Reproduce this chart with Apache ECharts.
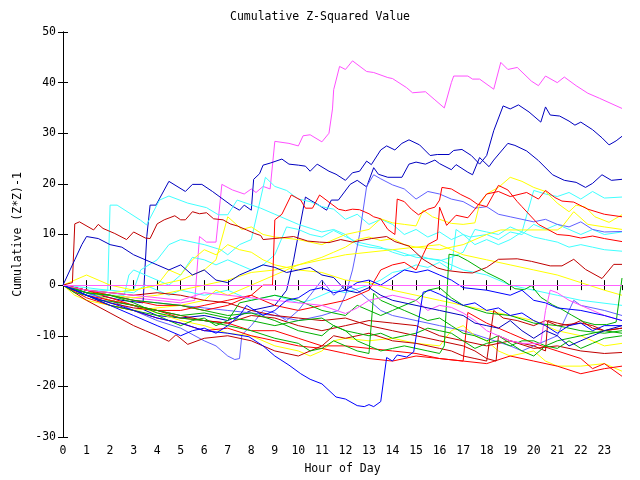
<!DOCTYPE html>
<html><head><meta charset="utf-8">
<script src="https://cdn.jsdelivr.net/npm/echarts@6/dist/echarts.min.js"></script>
<style>html,body{margin:0;padding:0;background:#fff}#c{width:640px;height:480px}</style>
</head><body><div id="c"></div>
<script>
const title = "Cumulative Z-Squared Value";
const xName = "Hour of Day";
const yName = "Cumulative (Z*Z)-1";
const xMin = 0, xMax = 23.75, yMin = -30, yMax = 50;

const magenta1 = [[0,0],[1,-1],[2,-2],[3,-2.5],[4,-3],[5,-3.5],[5.6,-3],[5.8,9.6],[6.1,8.5],[6.5,8.5],[6.75,19.9],[7.2,18.8],[7.7,18],[8.0,19],[8.2,18.3],[8.5,19.5],[8.8,19],[9.0,28.4],[9.6,28],[10.0,27.5],[10.2,29.5],[10.5,29.7],[11,28.3],[11.3,30],[11.45,34.8],[11.5,38.6],[11.75,43.2],[12,42.6],[12.3,44.3],[12.9,42.2],[13.2,42],[13.8,41],[14.0,40.8],[14.6,39],[14.85,38],[15.4,38.2],[15.8,36.6],[16.2,35],[16.5,40],[16.6,41.3],[17.2,41.3],[17.4,40.7],[17.7,40.7],[18.3,38.7],[18.6,44],[18.9,42.6],[19.3,43],[19.9,40.3],[20.2,39.4],[20.5,41.3],[21.0,40],[21.3,41.1],[21.8,39.4],[22.3,37.9],[22.8,36.9],[23.75,34.9]];
const darkBlueA = [[0,0],[0.5,-1],[1.5,-2],[2.5,-3],[3.4,-3.5],[3.56,9.6],[3.7,15.8],[3.95,15.8],[4.5,20.5],[5.2,18.5],[5.5,19.9],[5.9,19.9],[6.35,18.5],[7.2,15.6],[7.5,14.8],[7.7,15.8],[8.0,14.8],[8.1,20.9],[8.35,22],[8.5,23.7],[8.8,24.1],[9.3,24.9],[9.6,23.9],[10.0,23.7],[10.3,23.5],[10.5,22.5],[10.8,23.9],[11.3,22.5],[11.6,21.9],[12.0,20.7],[12.3,22.2],[12.6,22.5],[12.9,24.5],[13.1,23.8],[13.5,26.7],[13.75,27.5],[14.1,26.7],[14.4,28],[14.7,28.7],[15.15,27.7],[15.6,25.6],[15.9,25.8],[16.4,25.8],[16.6,26.6],[16.95,26.8],[17.35,25.6],[17.7,23.9],[18.0,25.6],[18.3,30.5],[18.7,35.4],[19.0,34.8],[19.35,35.6],[19.8,34.2],[20.3,32.2],[20.5,35.2],[20.7,33.6],[21.1,33.4],[21.5,32.4],[21.75,31.6],[22.0,32.2],[22.5,30.7],[22.9,29.1],[23.2,27.7],[23.5,28.5],[23.75,29.4]];
const darkBlueB = [[0,0],[1,-1.5],[2,-3],[3,-4],[4,-6],[5,-6.5],[6,-6],[7,-7],[8,-5],[9,-4],[9.5,-1],[9.8,5],[10.06,11.5],[10.3,17.4],[10.5,16.8],[10.8,16],[11.2,14.8],[11.4,16.8],[11.7,16.8],[12.2,19.9],[12.5,20.7],[12.9,19.4],[13.2,23.2],[13.4,21.9],[13.8,21.3],[14.4,21.3],[14.7,23.9],[15.0,24.3],[15.4,23.9],[15.8,24.7],[16.0,24],[16.5,22.8],[16.7,23.8],[17.2,22.3],[17.4,21.8],[17.7,25.2],[18.1,23.4],[18.3,24.7],[18.9,28],[19.2,27.6],[19.7,26.5],[20.2,24.6],[20.8,21.8],[21.3,20.7],[21.8,20.3],[22.2,19.3],[22.5,20.1],[22.9,21.8],[23.3,20.7],[23.75,20.9]];
const cyan1 = [[0,0],[1,-0.5],[1.9,-1],[2.0,15.8],[2.3,15.8],[3.3,12.8],[3.55,11.9],[4.1,16.8],[4.5,17.6],[5.3,16.2],[6.1,15.3],[6.6,13.9],[7.0,13.9],[7.4,16.8],[8.4,15.2],[9,14],[10,12],[11,10.5],[11.5,11],[12,10],[12.5,8],[13,7.5],[14,7],[15,5.5],[16,5],[16.5,4],[17,3],[18,2],[19,0],[20,-1],[21,-2],[22,-3],[23.75,-4]];
const cyan2 = [[0,0],[1,-1],[2,-1.5],[3,-1],[3.3,3],[4,5],[4.5,8],[5,9],[6,8],[6.7,7],[7,6],[7.5,8],[8,9],[8.6,21.3],[9,19.5],[9.5,18.7],[10,17],[10.5,16.5],[11,15.5],[11.5,15],[12,13],[12.5,14],[13,12],[13.5,13],[14,12],[14.5,10],[15,11],[15.5,9.5],[16,10.5],[16.5,9],[17,10],[17.5,8],[18,9],[18.5,8],[19,9],[19.5,10.5],[20,18.7],[20.5,18],[21,17.5],[21.5,18.3],[22,17],[22.5,18.5],[23,17.2],[23.75,17.4]];
const cyan3 = [[0,0],[1,-2],[2,-2],[2.6,-2],[2.8,2],[3,3],[3.5,2],[4,1],[4.5,0],[5,2],[5.5,5.5],[6,5],[6.5,4],[7,5],[7.5,4],[8,3],[8.5,4],[9,6],[9.5,11.5],[10,11],[10.5,10],[11,9.5],[11.5,10.8],[12,9.6],[12.5,8.5],[13,8],[13.5,7.5],[14,6.5],[14.5,5.8],[15,6],[15.5,5.3],[16,4.8],[16.5,5.5],[17,6.5],[17.5,11],[18,10.5],[18.5,10],[19,11.5],[19.5,10.5],[20,9.5],[20.5,9],[21,8.5],[21.5,7.5],[22,8],[22.5,7.5],[23,7],[23.75,6.7]];
const cyan4 = [[0,0],[1,-1],[2,-1],[3,-1.5],[3.5,0],[4,-1],[4.5,-2],[5,-1],[6,-2],[7,-1],[8,-3],[9,-2],[10,-3.5],[10.5,-3],[11,-2],[11.5,-1],[12,-1.5],[13,0],[13.5,1],[14,2.5],[14.5,3],[15,4],[15.5,3.5],[16,4.5],[16.5,3],[16.7,11],[17,10],[17.3,9.5],[18,10],[18.5,9],[19,10.5],[19.5,10],[20,12],[20.5,11],[21,12],[21.5,11],[22,10],[22.5,11],[23,10],[23.75,10.5]];
const lightBlue1 = [[0,0],[1,-1],[2,-2],[3,-3],[4,-3.5],[5,-4],[6,-4.5],[7,-5],[8,-5.5],[9,-6],[10,-7],[11,-6],[11.7,-5],[12,-2],[12.3,3],[12.6,10],[12.9,19.5],[13.2,21.8],[13.5,21],[14,19.8],[14.5,19],[15,17],[15.5,18.5],[16,18],[16.5,17],[17,16.5],[17.5,15.2],[18,15.5],[18.5,14],[19,13.5],[19.5,13],[20,12.5],[20.5,13],[21,12],[21.5,11.5],[22,12.5],[22.5,11],[23,10.5],[23.75,10.6]];
const lightBlue2 = [[0,0],[1,-1.5],[2,-3],[3,-5],[4,-7],[5,-8.5],[6,-11],[6.5,-12],[7,-14],[7.3,-14.7],[7.5,-14.5],[7.6,-9.8],[8,-8],[8.5,-5],[9,-5.5],[9.5,-7],[10,-5],[10.5,-2],[11,1],[11.5,-2],[12,0],[12.5,-1],[13,-3],[13.5,-5],[14,-6],[15,-7],[16,-8],[17,-9],[18,-10.5],[19,-12],[19.5,-13],[20,-12],[20.5,-11],[21,-10],[21.7,-3],[22,-4],[23,-5],[23.75,-6]];
const yellow1 = [[0,0],[1,-1],[2,-1.5],[3,-1],[4,0],[5,1],[6,3],[6.5,5],[7,13.5],[7.6,11],[8,11.5],[8.5,10],[9,9.5],[10,9],[11,8],[12,10],[12.5,10.5],[13,11],[13.5,13.1],[14,12.3],[14.5,12],[15,11.7],[15.3,14.8],[15.7,13.5],[16,13],[16.5,12.2],[17,12],[17.5,12.3],[17.7,16],[18,18],[18.5,19.3],[19,21.3],[19.5,20.5],[20,19.3],[20.5,18.5],[21,16.2],[21.5,14.5],[21.8,15.8],[22.2,15.4],[22.6,13.5],[23.2,12.4],[23.75,13.9]];
const yellow2 = [[0,0],[1,-1],[2,-2],[3,-2.5],[4,-2],[5,-1],[6,0],[7,1],[8,2.5],[9,3],[10,4],[11,5],[12,6],[13,6.5],[14,7],[15,7.5],[16,7],[17,8],[18,10],[18.6,10.9],[21,10.9],[21.2,11.5],[21.7,14.5],[22.3,12],[23,11.5],[23.75,11]];
const yellow3 = [[0,0],[1,-1],[2,-3],[3,-4],[4,-5.5],[5,-7],[6,-8],[7,-9.5],[8,-10],[9,-12],[10,-13],[10.5,-14],[11,-13],[11.5,-11],[12,-10.5],[13,-11],[14,-10.5],[15,-11.5],[16,-12],[16.5,-9],[17,-8],[17.5,-10],[18,-11],[18.5,-13],[19,-14],[20,-13],[20.5,-15],[21,-16],[22,-16],[23,-15.5],[23.75,-17]];
const yellow4 = [[0,0],[0.5,1],[1,2],[2,0],[3,-1],[4,0],[4.5,3],[5,2],[5.5,5],[6,7],[6.5,6],[7,8],[7.5,7],[8,6.5],[8.5,5],[9,4],[10,3],[11,2.5],[12,1],[13,0.5],[14,-1],[15,-2],[16,-3],[17,-4],[18,-5],[19,-6],[20,-7],[21,-9],[22,-10],[23,-12],[23.75,-11.5]];
const yellow5 = [[0,0],[0.5,-2],[1,-3],[2,-4],[3,-5],[4,-4.5],[5,-4],[6,-3],[6.5,-1],[7,-2],[8,0],[9,2],[10,4],[11,5.5],[11.5,6.5],[12,7.5],[12.5,9],[13,9.5],[13.5,8.8],[14,9.2],[14.5,8],[15,7.5],[16,8],[16.5,7],[17,6],[18,5],[19,4],[20,3],[21,2],[22,0.5],[23,-1],[23.75,-2]];
const red1 = [[0,0],[0.4,0.5],[0.5,12.1],[0.7,12.5],[1.3,10.9],[1.5,12],[1.7,11.2],[2.2,10.2],[2.7,9],[3.0,10.5],[3.5,9.3],[3.7,9.2],[4.0,12.1],[4.3,12.9],[4.75,13.7],[5.0,12.9],[5.2,12.9],[5.5,14.5],[5.8,14.1],[6.1,14.3],[6.4,13.1],[6.8,12.9],[7.1,12.1],[7.4,11.7],[7.8,10.9],[8.15,10.2],[8.4,9.8],[8.5,9],[9.2,9.3],[9.8,9.6],[10.4,8.7],[10.9,8.5],[11.3,8.4],[11.8,9],[12.3,8.5],[13.1,9.2],[13.75,9.6],[14.1,8.6],[14.7,7.7],[15.3,5.1],[15.9,3.4],[16.3,2.9],[17.0,2.5],[17.4,2.4],[18.0,3.5],[18.5,5.1],[19.3,5.2],[19.9,4.7],[20.7,3.8],[21.2,3.8],[21.7,5.1],[22.2,3.1],[22.9,1.3],[23.4,4.1],[23.75,4.1]];
const red2 = [[0,0],[1,-1],[2,-2],[3,-3],[4,-4],[5,-4],[6,-5],[7,-4],[8,-2],[8.5,0],[8.9,0],[9,12.9],[9.3,14],[9.7,17.8],[10.1,16.8],[10.3,15.2],[10.6,15.2],[10.9,17.8],[11.3,16.4],[11.7,15],[12.0,14.7],[12.3,15],[12.6,14.9],[13.0,14.1],[13.2,13.5],[13.5,13.1],[13.8,11],[14.1,10],[14.2,17],[14.5,16.5],[14.8,15],[15.1,13.9],[15.5,15],[15.8,15.4],[16.0,16.8],[16.1,19.3],[16.5,19],[16.9,17.9],[17.3,17],[17.6,16],[18.0,15.5],[18.5,19.7],[18.9,18.8],[19.3,16.5],[19.5,15.5],[20.2,12],[20.6,11],[21.0,10],[21.5,9.8],[22,9.3],[22.5,9.7],[23,9.2],[23.75,8.6]];
const red3 = [[0,0],[1,-2],[2,-3],[3,-4],[4,-5],[5,-5],[6,-4],[7,-3],[8,-2],[9,-4],[10,-5],[11,-4],[12,-3],[13,-1],[13.5,3],[14,4],[14.5,4.5],[15,3],[15.3,6],[15.5,8],[15.9,9],[16.0,15.4],[16.3,11.8],[16.7,13.8],[17.2,13.3],[17.5,15],[18,18],[18.5,18.5],[19,17.5],[19.7,18.3],[20.2,17],[20.5,18.7],[20.9,17.3],[21.2,16.6],[21.7,16.4],[22.3,15],[23,14],[23.75,13.5]];
const red4 = [[0,0],[1,-2.5],[2,-4],[3,-5],[4,-6.5],[5,-7.5],[6,-9],[7,-8.5],[8,-10],[9,-11],[10,-12],[11,-12.5],[12,-13.5],[13,-14.5],[14,-15],[15,-14],[16,-14.5],[17,-15],[18,-15.5],[19,-14],[20,-15],[21,-16],[22,-17.5],[23,-16.5],[23.75,-16]];
const red5 = [[0,0],[1,-1],[2,-2.5],[3,-4],[4,-5],[5,-6.5],[6,-7],[7,-7.5],[8,-9],[9,-9],[10,-10.5],[11,-12],[12,-12],[13,-12.5],[14,-13],[15,-13.5],[16,-14.5],[17,-15],[17.2,-5.4],[18,-7.5],[19,-9.5],[20,-11.5],[21,-13],[22,-14.5],[22.5,-16.5],[23,-15.5],[23.75,-18]];
const darkRed2 = [[0,0],[1,-3],[2,-5.5],[3,-8],[3.5,-9],[4,-10],[4.5,-11.1],[4.8,-9.8],[5.3,-11.7],[6,-10.5],[7,-10],[8,-11],[9,-13],[10,-14],[10.5,-13],[11,-12],[11.5,-10],[12,-10.5],[13,-9.5],[14,-11],[15,-11.5],[16,-12.5],[16.5,-13],[17,-14],[17.5,-14.5],[18,-15],[18.3,-5],[18.7,-6.5],[19.3,-7],[20,-8],[20.5,-7],[21,-8],[22,-7.5],[22.5,-8],[23,-9],[23.75,-8.5]];
const darkRed3 = [[0,0],[1,-2],[2,-3.5],[3,-4.5],[4,-5],[5,-6],[6,-7],[7,-7.5],[8,-6],[9,-6.5],[10,-8],[11,-9],[12,-8],[13,-7],[14,-7.5],[15,-8],[16,-10],[17,-11],[18,-12],[19,-11],[20,-12.5],[21,-12],[22,-13],[23,-13.5],[23.75,-13.3]];
const darkRed4 = [[0,0],[1,-1],[2,-1.5],[3,-2],[4,-1.5],[5,-2],[6,-3],[7,-3.5],[8,-5],[9,-6],[10,-6.5],[11,-7],[12,-6.5],[13,-8],[14,-9],[15,-10],[16,-11],[17,-12],[17.5,-13],[18,-14.5],[18.4,-15],[18.5,-10],[19,-11],[20,-12],[20.5,-13],[20.6,-7],[21,-7.5],[21.5,-8],[22,-7],[22.5,-8.5],[23,-9],[23.75,-8.5]];
const green1 = [[0,0],[0.5,-1.5],[1,-2],[1.5,-3],[2,-3.2],[3,-4],[4,-5],[5,-6],[6,-5.5],[7,-6.5],[8,-7],[9,-8],[10,-7],[11,-6.5],[11.5,-8],[12,-9],[12.5,-9.5],[13,-10],[13.5,-9.5],[14,-10.5],[14.5,-10],[15,-9.5],[15.5,-8.5],[16,-9],[16.5,-9.5],[17,-11],[17.5,-12.5],[18,-11.5],[18.5,-11],[19,-12],[19.5,-11],[20,-11],[20.5,-12],[21,-12.5],[21.5,-11],[22,-12.5],[22.5,-11.5],[23,-10.5],[23.75,-10]];
const green2 = [[0,0],[1,-1.5],[2,-2],[3,-3],[4,-3.5],[5,-4],[6,-5],[7,-6],[8,-5.5],[9,-7],[10,-9],[11,-10],[11.5,-8],[12,-9],[12.5,-11],[13,-12],[13.5,-13],[14,-12.5],[14.5,-12],[15,-12.5],[15.5,-13],[16,-13.5],[16.2,-12],[16.4,6.1],[16.8,5.8],[17.2,4.8],[18,2.5],[18.7,0.9],[19.2,-0.7],[19.6,-0.9],[19.9,-0.1],[20.3,-2.4],[20.8,-3.9],[21.2,-4.8],[21.6,-5.9],[22.1,-7.2],[22.6,-7.8],[23.1,-7.8],[23.5,-7.3],[23.75,1.4]];
const green3 = [[0,0],[1,-2],[2,-4],[3,-5],[4,-6],[5,-8],[5.5,-7],[6,-6.5],[6.5,-8],[7,-7],[7.5,-3.5],[8,-3],[9,-2],[10,-3],[11,-5],[12,-6],[12.5,-4],[13,-5],[13.5,-6],[14,-5],[15,-3],[15.5,-1],[16,-0.5],[16.5,-2.5],[17,-4],[18,-5.5],[19,-6],[20,-7.5],[21,-8],[22,-9],[23,-9.5],[23.75,-9]];
const green4 = [[0,0],[1,-1.5],[2,-2],[3,-3.5],[4,-5.5],[5,-6.5],[6,-7],[7,-8],[8,-9],[9,-10.5],[10,-11.5],[10.5,-13],[11,-12.5],[11.5,-11],[12,-12],[12.5,-13],[13,-13.5],[13.2,-1.6],[13.5,-3],[14,-4],[14.5,-5],[15,-6],[15.5,-7],[16,-6.5],[16.5,-8],[17,-9.5],[17.5,-10],[18,-11],[18.5,-10],[19,-11.5],[19.5,-13],[20,-14],[20.5,-12],[21,-11],[22,-10],[23,-9],[23.75,-9.5]];
const magenta2 = [[0,0],[1,-1],[2,-1.5],[3,-2],[4,-2.5],[5,-3],[6,-1.5],[7,-2],[8,-2.5],[9,-3],[10,-3.5],[11,-4],[12,-5.6],[12.5,-4.5],[13,-3],[14,-2],[15,-3],[15.5,-5],[16,-4],[16.5,-4.4],[17,-5.5],[17.5,-7],[18,-9],[19,-11],[19.5,-11.5],[20,-11.5],[20.3,-11.5],[20.5,-5],[20.7,-1],[21,-1.5],[21.5,-3],[22,-4],[22.5,-5],[23,-6],[23.75,-7]];
const blue1 = [[0,0],[1,-2],[2,-3.5],[3,-5],[4,-6.5],[5,-7.5],[6,-9],[7,-9.5],[7.9,-10.2],[8.5,-12],[9,-14],[9.6,-15.8],[10.1,-17.5],[10.5,-18.6],[11,-19.5],[11.6,-22.1],[12,-22.5],[12.5,-23.8],[12.8,-24],[13.0,-23.6],[13.2,-24],[13.5,-23],[13.75,-14.3],[14.0,-15],[14.2,-13.8],[14.6,-14.2],[14.9,-13.2],[15.3,-1.4],[15.6,-1],[16.0,-1.8],[16.5,-3],[17,-4],[17.5,-3.5],[18,-5],[18.5,-4.5],[19,-6],[19.5,-5.5],[20,-7],[20.5,-8],[21,-9.5],[21.5,-8],[22,-7.5],[22.5,-9],[23,-8],[23.75,-8]];
const blue2 = [[0,0],[0.5,-1],[1,-2],[2,-4],[3,-6],[4,-8],[4.5,-9],[5,-10],[5.5,-9],[6,-8.5],[6.5,-9.5],[7,-8],[7.5,-6],[7.8,-4],[8.5,-6],[9,-5],[9.5,-3],[10,-2.5],[10.5,-1],[11,-0.5],[11.5,-1.5],[12,-1],[12.5,0.5],[13,1],[13.5,0],[14,1.5],[14.5,3],[15,2.5],[15.5,3],[16,2],[16.5,1],[17,-0.5],[18,-1],[19,-2],[19.5,-1],[20,-3],[20.5,-3.5],[21,-4.5],[22,-5],[23,-6],[23.75,-7]];
const blue3 = [[0,0],[0.3,3],[0.5,5],[0.8,8],[1,9.6],[1.5,9.2],[2,8],[2.5,7.5],[3,6],[3.5,5],[4,4],[4.5,3],[5,4],[5.5,2],[6,3],[6.5,1],[7,0.5],[7.5,2],[8,3],[8.5,4],[9,3.5],[9.5,2.5],[10,3],[10.5,3.5],[11,2],[11.5,1.5],[12,-1],[12.5,-1.5],[13,-0.5],[13.5,-2],[14,-3],[15,-4],[16,-5],[17,-6],[17.5,-7.5],[18,-8],[18.5,-8.5],[19,-7],[19.5,-9],[20,-10.5],[20.5,-9],[21,-10],[21.5,-12],[22,-11],[22.5,-10],[23,-9],[23.75,-8]];

const lines = [
  [magenta1,'#ff50ff'],[darkBlueA,'#0000c0'],[darkBlueB,'#0000c0'],
  [cyan1,'#40ffff'],[cyan2,'#40ffff'],[cyan3,'#40ffff'],[cyan4,'#40ffff'],
  [lightBlue1,'#6060ff'],[lightBlue2,'#6060ff'],
  [yellow1,'#ffff00'],[yellow2,'#ffff00'],[yellow3,'#ffff00'],[yellow4,'#ffff00'],[yellow5,'#ffff00'],
  [red1,'#c00000'],[red2,'#ff0000'],[red3,'#ff0000'],[red4,'#ff0000'],[red5,'#ff0000'],
  [darkRed2,'#c00000'],[darkRed3,'#c00000'],[darkRed4,'#c00000'],
  [green1,'#00b000'],[green2,'#00b000'],[green3,'#00b000'],[green4,'#00b000'],
  [magenta2,'#ff50ff'],[blue1,'#0000ff'],[blue2,'#0000ff'],[blue3,'#0000c0']
];

const FONT = 'DejaVu Sans Mono';
const chart = echarts.init(document.getElementById('c'), null, {renderer:'canvas'});
const series = lines.map((l,i)=>({
  type:'line', data:l[0], symbol:'none', animation:false, silent:true,
  lineStyle:{color:l[1], width:1}, z: 2
}));
series.push({type:'line', data:[], symbol:'none', animation:false,
  markLine:{silent:true, symbol:'none', label:{show:false}, lineStyle:{color:'#ff60ff', width:1, type:'solid'}, data:[{yAxis:0}]}});
const baseX = {type:'value', min:xMin, max:xMax, interval:1, splitLine:{show:false},
  axisLine:{lineStyle:{color:'#000', width:1}}, axisTick:{inside:true, length:5, lineStyle:{color:'#000'}}};
const baseY = {type:'value', min:yMin, max:yMax, interval:10, splitLine:{show:false},
  axisLine:{show:true, lineStyle:{color:'#000', width:1}}, axisTick:{inside:true, length:5, lineStyle:{color:'#000'}}};
chart.setOption({
  animation:false,
  backgroundColor:'#fff',
  title:{text:title, left:'center', top:6, textStyle:{fontFamily:FONT, fontSize:11.5, fontWeight:'normal', color:'#000'}},
  grid:{left:63, right:18, top:32, bottom:36},
  xAxis:[
    Object.assign({}, baseX, {position:'bottom', name:xName, nameLocation:'middle', nameGap:26,
      nameTextStyle:{fontFamily:FONT, fontSize:11.5, color:'#000'},
      axisLabel:{fontFamily:FONT, fontSize:11.5, color:'#000', margin:8, showMaxLabel:false}}),
    Object.assign({}, baseX, {position:'top', axisLabel:{show:false}})
  ],
  yAxis:[
    Object.assign({}, baseY, {position:'left', name:yName, nameLocation:'middle', nameGap:32,
      nameTextStyle:{fontFamily:FONT, fontSize:11.5, color:'#000'},
      axisLabel:{fontFamily:FONT, fontSize:11.5, color:'#000', margin:7}}),
    Object.assign({}, baseY, {position:'right', axisLabel:{show:false}})
  ],
  series: series
});
</script></body></html>
